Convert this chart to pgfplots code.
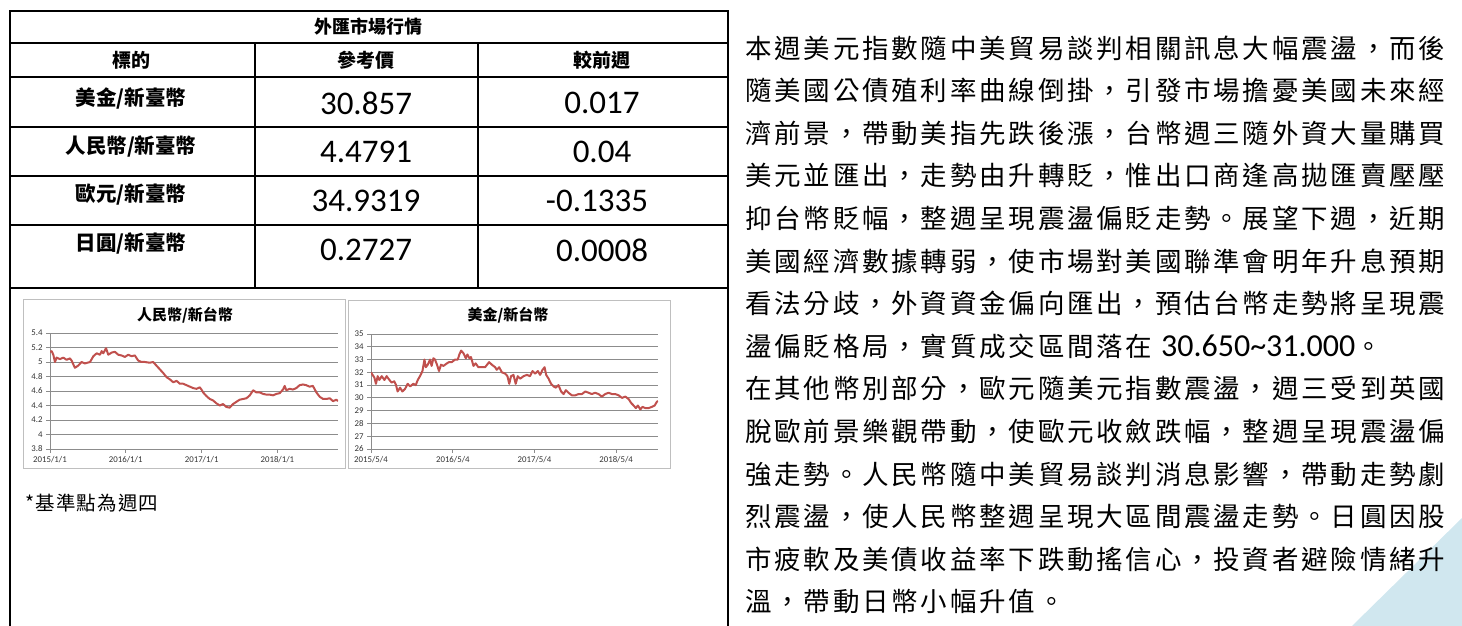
\documentclass[border=0pt]{standalone}
\usepackage{pgfplots}
\pgfplotsset{compat=1.18}
\usepackage{pgfplotstable}
\usepackage{fontspec}
\setmainfont{Carlito}
\newfontfamily\cjk{Noto Sans CJK TC}
\newfontfamily\cjkp{Noto Sans CJK TC}[LetterSpace=10.5]
\newfontfamily\cjkn{Noto Sans CJK TC}[LetterSpace=6]
\definecolor{xred}{HTML}{C0504D}
\definecolor{gridc}{HTML}{8C8C8C}
\definecolor{labc}{HTML}{333333}
\definecolor{boxc}{HTML}{BFBFBF}
\definecolor{triblue}{HTML}{D0E7EF}

\pgfplotstableread{
day val
0 5.14
8 5.15
16 5.10
24 5.00
32 5.06
48 5.04
64 5.06
80 5.03
96 5.05
104 5.02
120 4.92
136 4.95
152 5.00
168 4.98
193 5.00
209 5.08
225 5.12
241 5.10
249 5.15
257 5.12
270 5.19
281 5.10
297 5.13
313 5.14
329 5.10
345 5.09
361 5.07
377 5.10
393 5.08
409 5.09
425 5.02
441 5.00
457 5.00
481 4.99
497 5.00
513 4.95
529 4.90
545 4.85
562 4.79
578 4.76
594 4.72
610 4.74
626 4.70
642 4.70
658 4.68
674 4.66
690 4.64
706 4.63
722 4.65
730 4.62
738 4.58
754 4.53
770 4.49
786 4.47
802 4.43
818 4.40
834 4.42
850 4.38
866 4.37
882 4.42
898 4.45
914 4.48
931 4.49
947 4.50
963 4.54
979 4.61
995 4.58
1011 4.58
1027 4.56
1043 4.55
1059 4.55
1075 4.54
1091 4.56
1107 4.57
1123 4.62
1131 4.67
1139 4.61
1155 4.63
1171 4.62
1187 4.64
1203 4.68
1219 4.69
1235 4.68
1251 4.66
1267 4.67
1284 4.58
1300 4.52
1316 4.49
1332 4.49
1348 4.50
1364 4.46
1380 4.48
1388 4.46
}\cnydata

\pgfplotstableread{
day val
0 32.0
7 31.8
15 31.6
22 31.1
30 31.7
37 31.4
48 31.7
60 31.4
70 31.7
78 31.5
92 31.2
104 31.3
112 31.0
119 30.5
130 30.8
140 30.5
152 30.7
164 31.1
175 30.9
189 31.1
200 31.0
209 31.4
219 31.7
230 32.1
239 33.0
245 32.4
254 32.6
264 33.0
271 32.5
279 33.1
286 33.0
295 32.6
304 32.1
313 32.6
324 32.5
339 32.7
349 32.8
361 32.8
376 33.0
388 33.0
395 33.4
403 33.7
413 33.5
424 33.1
431 33.4
440 33.1
447 33.2
458 32.5
468 32.7
480 32.4
495 32.4
510 32.4
528 32.8
540 32.6
555 32.4
562 32.2
573 32.4
585 32.0
600 31.9
610 31.7
618 31.1
626 31.7
637 31.8
647 31.1
656 31.7
667 31.5
682 31.7
697 31.8
711 31.7
722 32.1
734 31.9
746 32.1
756 31.8
767 32.2
776 32.4
783 31.8
794 31.5
805 31.1
816 30.9
826 30.8
838 31.0
850 30.5
861 30.3
871 30.6
883 30.4
898 30.2
913 30.2
928 30.3
943 30.3
958 30.5
973 30.4
987 30.3
1002 30.4
1017 30.3
1032 30.1
1047 30.3
1062 30.4
1077 30.3
1092 30.3
1107 30.2
1122 30.0
1137 30.1
1152 29.9
1163 29.6
1174 29.4
1184 29.2
1193 29.4
1204 29.1
1214 29.3
1226 29.2
1241 29.2
1256 29.3
1268 29.4
1278 29.7
1283 29.75
}\usddata

\pgfplotsset{
  fxchart/.style={
    scale only axis, anchor=south west,
    axis x line*=bottom, axis y line*=left,
    axis line style={gridc, line width=0.8pt},
    ymajorgrids, grid style={gridc, line width=0.8pt},
    tick align=outside, major tick length=4pt,
    tick style={gridc, line width=0.8pt},
    ticklabel style={font=\fontsize{8.8}{9}\selectfont, text=labc},
    /pgf/number format/assume math mode=true,
    xtick={0,365,731,1096},
    xmin=0,
  }
}

\begin{document}
\begin{tikzpicture}
\path[use as bounding box] (0pt,0pt) rectangle (1462pt,626pt);
\begin{scope}[x=1pt,y=-1pt,shift={(0pt,626pt)}]
  % decorative triangle
  \fill[triblue] (1462,518) -- (1352,626) -- (1462,626) -- cycle;
  % table grid
  \begin{scope}[line width=1.8pt, line cap=rect]
    \draw (10,11) -- (728,11);
    \draw (10,11) -- (10,626);
    \draw (728,11) -- (728,626);
    \foreach \yy in {43,77,127,176,225,288} { \draw (10,\yy) -- (728,\yy); }
    \draw (255,43) -- (255,288);
    \draw (478,43) -- (478,288);
  \end{scope}
  % table text
  \node at (368,27) {\cjk\bfseries\fontsize{18}{18}\selectfont 外匯市場行情};
  \node at (131,60) {\cjk\bfseries\fontsize{19}{19}\selectfont 標的};
  \node at (366,60) {\cjk\bfseries\fontsize{19}{19}\selectfont 參考價};
  \node at (602,60) {\cjk\bfseries\fontsize{19}{19}\selectfont 較前週};
  \node at (131,98) {\cjk\bfseries\fontsize{20.5}{20.5}\selectfont 美金/新臺幣};
  \node at (131,146) {\cjk\bfseries\fontsize{20.5}{20.5}\selectfont 人民幣/新臺幣};
  \node at (131,194) {\cjk\bfseries\fontsize{20.5}{20.5}\selectfont 歐元/新臺幣};
  \node at (131,243) {\cjk\bfseries\fontsize{20.5}{20.5}\selectfont 日圓/新臺幣};
  \node at (366,103) {\fontsize{33}{33}\selectfont 30.857};
  \node at (602,103) {\fontsize{33}{33}\selectfont 0.017};
  \node at (366,152) {\fontsize{33}{33}\selectfont 4.4791};
  \node at (602,152) {\fontsize{33}{33}\selectfont 0.04};
  \node at (366,201) {\fontsize{33}{33}\selectfont 34.9319};
  \node at (597,201) {\fontsize{33}{33}\selectfont -0.1335};
  \node at (366,250) {\fontsize{33}{33}\selectfont 0.2727};
  \node at (602,250) {\fontsize{33}{33}\selectfont 0.0008};
  % chart boxes and titles
  \draw[boxc, line width=0.8pt] (23,299) rectangle (345,468);
  \draw[boxc, line width=0.8pt] (348,300) rectangle (670,468);
  \node at (185,315) {\cjk\bfseries\fontsize{15}{15}\selectfont 人民幣/新台幣};
  \node at (508,315) {\cjk\bfseries\fontsize{15}{15}\selectfont 美金/新台幣};
  % footnote
  \node[anchor=west, inner sep=0pt] at (25,503) {\cjkn\fontsize{19.5}{19.5}\selectfont *基準點為週四};
  % paragraph
  \begin{scope}[every node/.style={anchor=west, inner sep=0pt, font=\cjkp\fontsize{26.5}{26.5}\selectfont}]
    \node at (745,48)  {本週美元指數隨中美貿易談判相關訊息大幅震盪，而後};
    \node at (745,90.6) {隨美國公債殖利率曲線倒掛，引發市場擔憂美國未來經};
    \node at (745,133.2) {濟前景，帶動美指先跌後漲，台幣週三隨外資大量購買};
    \node at (745,175.8) {美元並匯出，走勢由升轉貶，惟出口商逢高拋匯賣壓壓};
    \node at (745,218.4) {抑台幣貶幅，整週呈現震盪偏貶走勢。展望下週，近期};
    \node at (745,261) {美國經濟數據轉弱，使市場對美國聯準會明年升息預期};
    \node at (745,303.6) {看法分歧，外資資金偏向匯出，預估台幣走勢將呈現震};
    \node at (745,346.2) {盪偏貶格局，實質成交區間落在\ {\fontspec{Carlito}\fontsize{32}{32}\selectfont 30.650\textasciitilde 31.000}。};
    \node at (745,388.8) {在其他幣別部分，歐元隨美元指數震盪，週三受到英國};
    \node at (745,431.4) {脫歐前景樂觀帶動，使歐元收斂跌幅，整週呈現震盪偏};
    \node at (745,474) {強走勢。人民幣隨中美貿易談判消息影響，帶動走勢劇};
    \node at (745,516.6) {烈震盪，使人民幣整週呈現大區間震盪走勢。日圓因股};
    \node at (745,559.2) {市疲軟及美債收益率下跌動搖信心，投資者避險情緒升};
    \node at (745,601.8) {溫，帶動日幣小幅升值。};
  \end{scope}
\end{scope}

\begin{axis}[fxchart, at={(50pt,177pt)}, width=288pt, height=116pt,
  xmax=1388, ymin=3.8, ymax=5.4,
  ytick={3.8,4,4.2,4.4,4.6,4.8,5,5.2,5.4},
  xticklabels={2015/1/1,2016/1/1,2017/1/1,2018/1/1}]
  \addplot[xred, line width=2pt, line join=round, no marks] table[x=day,y=val] {\cnydata};
\end{axis}

\begin{axis}[fxchart, at={(371pt,177pt)}, width=287pt, height=115pt,
  xmax=1283, ymin=26, ymax=35,
  ytick={26,27,28,29,30,31,32,33,34,35},
  xtick={0,366,731,1096},
  xticklabels={2015/5/4,2016/5/4,2017/5/4,2018/5/4}]
  \addplot[xred, line width=2pt, line join=round, no marks] table[x=day,y=val] {\usddata};
\end{axis}
\end{tikzpicture}
\end{document}
